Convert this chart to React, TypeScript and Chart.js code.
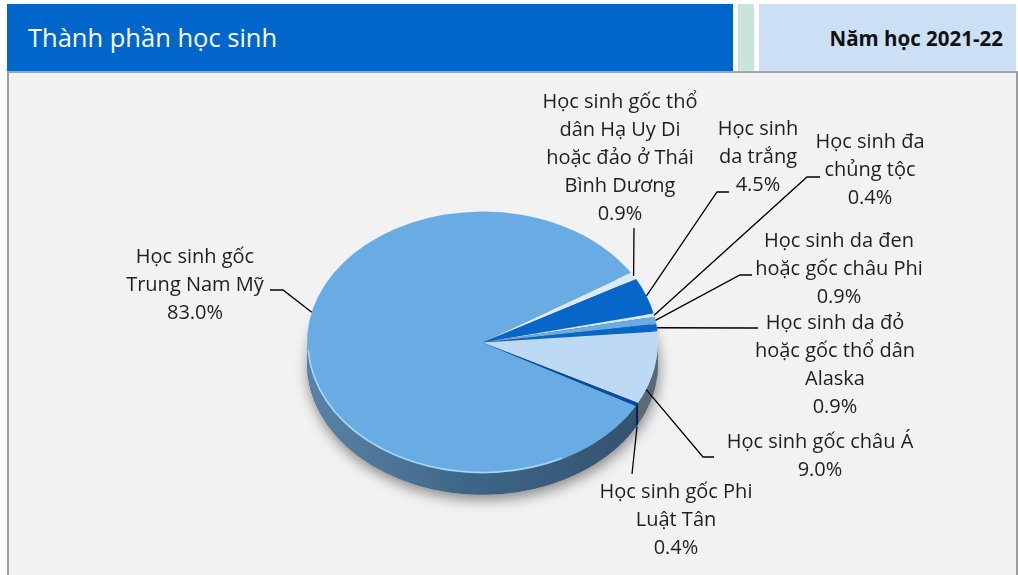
import React, { useEffect, useRef } from "react";
import { Chart, registerables } from "chart.js";

Chart.register(...registerables);

// ---- Data ----
const categories = [
  "Học sinh gốc Trung Nam Mỹ",
  "Học sinh gốc thổ dân Hạ Uy Di hoặc đảo ở Thái Bình Dương",
  "Học sinh da trắng",
  "Học sinh đa chủng tộc",
  "Học sinh da đen hoặc gốc châu Phi",
  "Học sinh da đỏ hoặc gốc thổ dân Alaska",
  "Học sinh gốc châu Á",
  "Học sinh gốc Phi Luật Tân",
];
const shares = [83.0, 0.9, 4.5, 0.4, 0.9, 0.9, 9.0, 0.4];
const labelLines = [
  ["Học sinh gốc", "Trung Nam Mỹ"],
  ["Học sinh gốc thổ", "dân Hạ Uy Di", "hoặc đảo ở Thái", "Bình Dương"],
  ["Học sinh", "da trắng"],
  ["Học sinh đa", "chủng tộc"],
  ["Học sinh da đen", "hoặc gốc châu Phi"],
  ["Học sinh da đỏ", "hoặc gốc thổ dân", "Alaska"],
  ["Học sinh gốc châu Á"],
  ["Học sinh gốc Phi", "Luật Tân"],
];
const title = "Thành phần học sinh";
const yearLabel = "Năm học 2021-22";

// ---- Styles / layout ----
const sliceColors = ["#69ABE3", "#DCEAF7", "#0767C8", "#D3EAE4", "#69ABE3", "#0767C8", "#BED9F3", "#0B4AA2"];
const TILT = 0.746; // vertical squish of the pie
const DEPTH = 21;
const LABEL_FONT = '20px "Open Sans", "Noto Sans", sans-serif';
const LINE_H = 28;
// label block centre x, first line centre y, leader path points (from label towards pie), anchor fraction along arc, anchor y offset
const labelLayout = [
  { x: 195, y: 257, path: [[270, 290], [283, 290]], frac: 0.55, dy: 0 },
  { x: 620, y: 102, path: [[634, 228]], frac: 0.5, dy: 0 },
  { x: 758, y: 129, path: [[729, 192], [717, 192]], frac: 0.5, dy: 0 },
  { x: 870, y: 142, path: [[820, 177], [807, 177]], frac: 0.5, dy: 0 },
  { x: 839, y: 241, path: [[752, 275], [740, 275]], frac: 0.5, dy: 0 },
  { x: 835, y: 323, path: [[758, 328], [748, 328]], frac: 0.5, dy: 0 },
  { x: 820, y: 442, path: [[714, 457], [703, 457]], frac: 0.8, dy: 0 },
  { x: 676, y: 492, path: [[632, 474]], frac: 0.5, dy: 22 },
];

function shade(hex: string, f: number) {
  const n = parseInt(hex.slice(1), 16);
  const r = Math.round(((n >> 16) & 255) * f);
  const g = Math.round(((n >> 8) & 255) * f);
  const b = Math.round((n & 255) * f);
  return `rgb(${r},${g},${b})`;
}

const pie3d = {
  id: "pie3d",
  beforeDatasetsDraw(chart: any) {
    const ctx = chart.ctx as CanvasRenderingContext2D;
    const meta = chart.getDatasetMeta(0);
    const a0 = meta.data[0].getProps(["x", "y", "outerRadius"], true);
    const cx = a0.x, cy = a0.y, r = a0.outerRadius, ry = r * TILT;
    // drop shadow
    ctx.save();
    ctx.shadowColor = "rgba(0,0,0,0.45)";
    ctx.shadowBlur = 14;
    ctx.shadowOffsetY = 5;
    ctx.shadowOffsetX = 1;
    ctx.beginPath();
    ctx.ellipse(cx, cy + DEPTH, r, ry, 0, 0, Math.PI * 2);
    ctx.fillStyle = "#2f5070";
    ctx.fill();
    ctx.restore();
    // side walls
    meta.data.forEach((arc: any, i: number) => {
      const p = arc.getProps(["startAngle", "endAngle"], true);
      for (let k = -1; k <= 2; k++) {
        const lo = Math.max(p.startAngle, 2 * Math.PI * k);
        const hi = Math.min(p.endAngle, 2 * Math.PI * k + Math.PI);
        if (hi > lo) {
          ctx.beginPath();
          ctx.ellipse(cx, cy, r, ry, 0, lo, hi, false);
          ctx.ellipse(cx, cy + DEPTH, r, ry, 0, hi, lo, true);
          ctx.closePath();
          ctx.fillStyle = shade(sliceColors[i], 0.68);
          ctx.fill();
        }
      }
    });
    // side shading overlay
    ctx.save();
    ctx.beginPath();
    ctx.ellipse(cx, cy, r, ry, 0, 0, Math.PI, false);
    ctx.ellipse(cx, cy + DEPTH, r, ry, 0, Math.PI, 0, true);
    ctx.closePath();
    const g = ctx.createLinearGradient(cx - r, 0, cx + r, 0);
    g.addColorStop(0, "rgba(255,255,255,0.10)");
    g.addColorStop(0.45, "rgba(0,0,0,0.12)");
    g.addColorStop(1, "rgba(0,0,0,0.30)");
    ctx.fillStyle = g;
    ctx.fill();
    ctx.restore();
  },
  beforeDatasetDraw(chart: any) {
    const ctx = chart.ctx as CanvasRenderingContext2D;
    const a0 = chart.getDatasetMeta(0).data[0].getProps(["y"], true);
    ctx.save();
    ctx.translate(0, a0.y);
    ctx.scale(1, TILT);
    ctx.translate(0, -a0.y);
  },
  afterDatasetDraw(chart: any) {
    const ctx = chart.ctx as CanvasRenderingContext2D;
    ctx.restore();
    const meta = chart.getDatasetMeta(0);
    const a0 = meta.data[0].getProps(["x", "y", "outerRadius"], true);
    const cx = a0.x, cy = a0.y, r = a0.outerRadius, ry = r * TILT;
    // rim highlight along the front edge
    ctx.save();
    ctx.beginPath();
    ctx.ellipse(cx, cy, r - 1, ry - 1, 0, Math.PI * 0.35, Math.PI * 0.98, false);
    ctx.strokeStyle = "rgba(190,230,255,0.75)";
    ctx.lineWidth = 1.5;
    ctx.stroke();
    ctx.restore();
  },
  afterDraw(chart: any) {
    const ctx = chart.ctx as CanvasRenderingContext2D;
    const meta = chart.getDatasetMeta(0);
    ctx.save();
    ctx.font = LABEL_FONT;
    ctx.fillStyle = "#1f1f1f";
    ctx.textAlign = "center";
    ctx.textBaseline = "middle";
    ctx.strokeStyle = "#000";
    ctx.lineWidth = 1.3;
    meta.data.forEach((arc: any, i: number) => {
      const p = arc.getProps(["x", "y", "startAngle", "endAngle", "outerRadius"], true);
      const L = labelLayout[i];
      const ang = p.startAngle + (p.endAngle - p.startAngle) * L.frac;
      const ax = p.x + p.outerRadius * Math.cos(ang);
      const ay = p.y + p.outerRadius * TILT * Math.sin(ang) + L.dy;
      ctx.beginPath();
      ctx.moveTo(L.path[0][0], L.path[0][1]);
      for (let j = 1; j < L.path.length; j++) ctx.lineTo(L.path[j][0], L.path[j][1]);
      ctx.lineTo(ax, ay);
      ctx.stroke();
      const lines = [...labelLines[i], shares[i].toFixed(1) + "%"];
      lines.forEach((t, j) => ctx.fillText(t, L.x, L.y + j * LINE_H));
    });
    ctx.restore();
  },
};

export default function App() {
  const canvasRef = useRef<HTMLCanvasElement | null>(null);
  useEffect(() => {
    if (!canvasRef.current) return;
    const chart = new Chart(canvasRef.current, {
      type: "pie",
      data: {
        labels: categories,
        datasets: [{ data: shares, backgroundColor: sliceColors, borderWidth: 0 }],
      },
      options: {
        animation: false,
        responsive: false,
        rotation: 119,
        events: [],
        layout: { padding: { left: 307, right: 360, top: 167, bottom: 57 } },
        plugins: { legend: { display: false }, tooltip: { enabled: false } },
      },
      plugins: [pie3d],
    } as any);
    return () => chart.destroy();
  }, []);

  return (
    <div style={{ position: "fixed", left: 0, top: 0, width: 1018, height: 575, background: "#fff", overflow: "hidden", fontFamily: '"Open Sans", sans-serif' }}>
      <div style={{ position: "absolute", left: 7, top: 4, width: 726, height: 67, background: "#0066CC" }}>
        <div style={{ position: "absolute", left: 21, top: 0, height: 67, lineHeight: "67px", color: "#fff", fontSize: 25.5, whiteSpace: "nowrap" }}>{title}</div>
      </div>
      <div style={{ position: "absolute", left: 738, top: 4, width: 16, height: 67, background: "#C9E5DB" }} />
      <div style={{ position: "absolute", left: 759, top: 4, width: 257, height: 67, background: "#CCE0F5" }}>
        <div style={{ position: "absolute", right: 13, top: 1, height: 67, lineHeight: "67px", color: "#111", fontSize: 20.5, fontWeight: 700, whiteSpace: "nowrap" }}>{yearLabel}</div>
      </div>
      <div style={{ position: "absolute", left: 7, top: 71, width: 1011, height: 510, background: "#F2F2F2", borderLeft: "2px solid #9d9d9d", borderTop: "2px solid #a6a6a6", borderRight: "2px solid #9d9d9d", boxSizing: "border-box" }} />
      <canvas ref={canvasRef} width={1018} height={575} style={{ position: "absolute", left: 0, top: 0, width: 1018, height: 575 }} />
    </div>
  );
}
